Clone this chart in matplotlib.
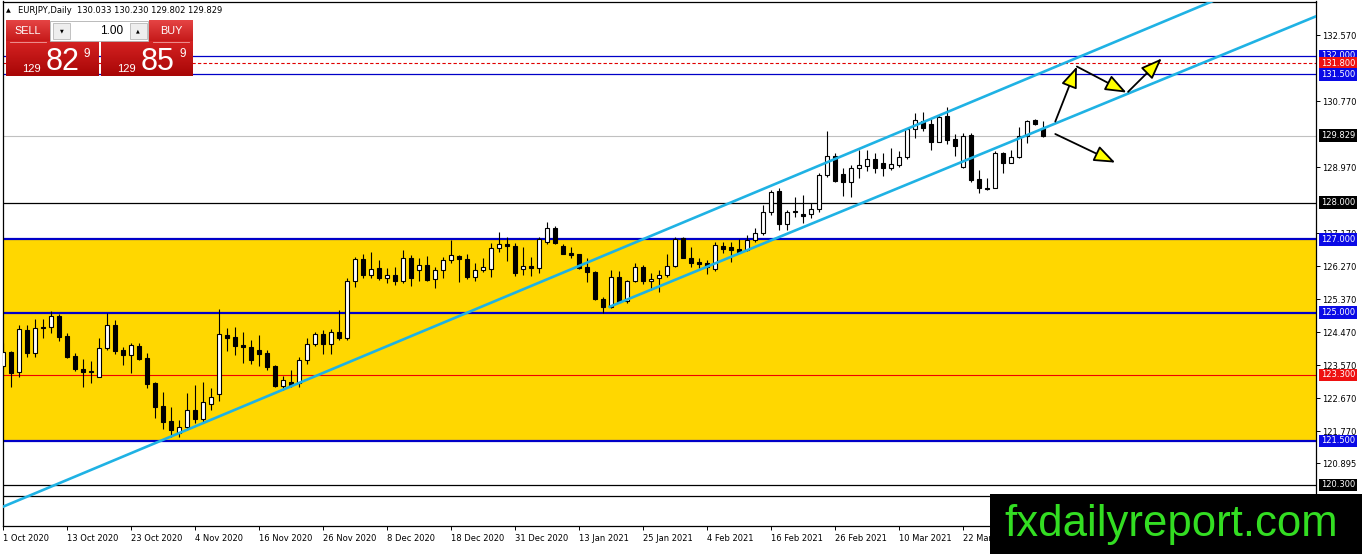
import numpy as np
import matplotlib
matplotlib.use('Agg')
from matplotlib import pyplot as plt
from matplotlib.patches import Rectangle, FancyArrowPatch
from matplotlib.colors import LinearSegmentedColormap

#%% data (EURJPY daily, bar 0 = 1 Oct 2020)
opens = [123.54, 123.93, 123.37, 124.52, 123.89, 124.60, 124.60, 124.91, 124.36, 123.82,
         123.46, 123.37, 123.25, 124.03, 124.66, 123.98, 123.83, 124.09, 123.75, 123.07,
         122.45, 122.04, 121.71, 121.89, 122.35, 122.10, 122.50, 122.77, 124.39, 124.33,
         124.12, 124.05, 123.98, 123.89, 123.54, 123.01, 123.12, 123.07, 123.71, 124.14,
         124.41, 124.14, 124.46, 124.32, 125.86, 126.46, 126.02, 126.22, 125.95, 126.02,
         125.86, 126.50, 126.16, 126.30, 125.91, 126.16, 126.43, 126.55, 126.46, 125.98,
         126.16, 126.20, 126.77, 126.86, 126.82, 126.18, 126.27, 126.22, 126.93, 127.32,
         126.82, 126.62, 126.60, 126.25, 126.10, 125.37, 125.16, 125.96, 125.31, 125.86,
         126.23, 125.86, 125.93, 126.02, 126.28, 127.04, 126.48, 126.39, 126.34, 126.18,
         126.82, 126.78, 126.73, 126.72, 126.99, 127.16, 127.73, 128.32, 127.41, 127.77,
         127.68, 127.68, 127.82, 128.75, 129.27, 128.78, 128.57, 128.93, 129.01, 129.19,
         129.07, 128.93, 129.03, 129.23, 130.01, 130.22, 130.13, 129.66, 130.37, 129.73,
         128.98, 129.84, 128.64, 128.41, 128.41, 129.34, 129.09, 129.25, 129.82, 130.25,
         130.033]
highs = [124.16, 123.95, 124.67, 124.66, 124.82, 124.82, 125.04, 124.96, 124.43, 123.91,
         123.73, 123.69, 124.30, 124.98, 124.80, 124.07, 124.18, 124.18, 123.91, 123.12,
         122.84, 122.43, 122.07, 122.80, 123.03, 123.12, 122.95, 125.10, 124.57, 124.60,
         124.48, 124.25, 124.39, 123.98, 123.57, 123.27, 123.43, 123.80, 124.32, 124.48,
         124.53, 124.54, 125.07, 125.93, 126.52, 126.61, 126.66, 126.43, 126.22, 126.25,
         126.71, 126.57, 126.50, 126.54, 126.25, 126.52, 126.98, 126.57, 126.61, 126.34,
         126.48, 126.91, 127.21, 127.07, 126.89, 126.80, 126.52, 127.07, 127.46, 127.37,
         126.86, 126.80, 126.61, 126.50, 126.13, 125.43, 126.16, 126.13, 125.89, 126.34,
         126.30, 126.07, 126.16, 126.61, 127.07, 127.07, 126.80, 126.48, 126.43, 126.93,
         126.93, 126.93, 127.02, 127.11, 127.30, 127.93, 128.34, 128.39, 127.80, 128.14,
         128.20, 128.00, 128.80, 129.95, 129.34, 128.93, 129.02, 129.43, 129.43, 129.34,
         129.34, 129.50, 129.41, 130.04, 130.43, 130.46, 130.28, 130.39, 130.62, 129.86,
         129.89, 129.89, 128.89, 128.66, 129.41, 129.39, 129.43, 130.07, 130.25, 130.28,
         130.230]
lows = [123.50, 122.96, 123.25, 123.80, 123.80, 124.32, 124.45, 124.23, 123.75, 123.41,
        122.96, 123.07, 123.23, 123.98, 123.86, 123.57, 123.36, 123.71, 122.95, 122.13,
        121.82, 121.62, 121.62, 121.80, 121.98, 122.00, 122.35, 122.60, 123.94, 123.84,
        123.63, 123.60, 123.54, 123.44, 122.96, 122.89, 122.98, 122.98, 123.60, 124.09,
        123.86, 123.86, 124.25, 124.25, 125.71, 125.95, 125.93, 125.89, 125.82, 125.75,
        125.80, 125.73, 125.86, 125.86, 125.66, 125.95, 126.34, 125.84, 125.91, 125.86,
        126.10, 125.98, 126.64, 126.41, 126.00, 126.02, 126.00, 126.07, 126.86, 126.86,
        126.60, 126.48, 126.20, 125.84, 125.34, 125.00, 125.13, 125.25, 125.25, 125.84,
        125.77, 125.61, 125.55, 125.98, 126.25, 126.48, 126.25, 126.21, 126.05, 126.14,
        126.62, 126.39, 126.62, 126.69, 126.93, 127.12, 127.66, 127.25, 127.25, 127.60,
        127.43, 127.59, 127.75, 128.70, 128.57, 128.18, 128.14, 128.68, 128.86, 128.82,
        128.73, 128.89, 128.98, 129.19, 129.77, 129.95, 129.43, 129.64, 129.59, 129.28,
        128.95, 128.55, 128.25, 128.34, 128.39, 128.82, 129.07, 129.21, 129.62, 130.11,
        129.802]
closes = [123.93, 123.34, 124.54, 123.89, 124.57, 124.57, 124.91, 124.34, 123.78, 123.45,
          123.37, 123.42, 124.03, 124.66, 123.95, 123.83, 124.12, 123.73, 123.04, 122.43,
          122.02, 121.80, 121.89, 122.35, 122.10, 122.55, 122.71, 124.41, 124.32, 124.09,
          124.05, 123.71, 123.87, 123.51, 123.00, 123.16, 123.03, 123.71, 124.14, 124.41,
          124.14, 124.48, 124.32, 125.86, 126.46, 126.02, 126.19, 125.95, 126.02, 125.86,
          126.48, 125.95, 126.30, 125.89, 126.16, 126.43, 126.57, 126.46, 125.98, 126.16,
          126.23, 126.75, 126.86, 126.82, 126.07, 126.27, 126.22, 127.02, 127.32, 126.91,
          126.61, 126.57, 126.22, 126.10, 125.37, 125.16, 125.96, 125.28, 125.86, 126.23,
          125.86, 125.91, 126.02, 126.28, 127.02, 126.48, 126.36, 126.33, 126.25, 126.84,
          126.73, 126.72, 126.66, 126.99, 127.16, 127.73, 128.30, 127.41, 127.73, 127.73,
          127.64, 127.82, 128.75, 129.27, 128.60, 128.57, 128.93, 129.03, 129.19, 128.95,
          128.93, 129.05, 129.23, 130.01, 130.25, 130.04, 129.66, 130.34, 129.71, 129.55,
          129.82, 128.62, 128.39, 128.37, 129.34, 129.09, 129.25, 129.82, 130.22, 130.13,
          129.829]

date_labels = ['1 Oct 2020', '13 Oct 2020', '23 Oct 2020', '4 Nov 2020', '16 Nov 2020',
               '26 Nov 2020', '8 Dec 2020', '18 Dec 2020', '31 Dec 2020', '13 Jan 2021',
               '25 Jan 2021', '4 Feb 2021', '16 Feb 2021', '26 Feb 2021', '10 Mar 2021',
               '22 Mar 2021']
price_ticks = [132.570, 130.770, 128.970, 127.170, 126.270, 125.370, 124.470, 123.570,
               122.670, 121.770, 120.895]

zone = [121.5, 127.0]
blue_levels = [132.0, 131.5, 127.0, 125.0, 121.5]
red_levels = [131.8, 123.3]
black_levels = [128.0, 120.3, 120.0]
bid = 129.829
header = 'EURJPY,Daily  130.033 130.230 129.802 129.829'

# trend channel anchors (bar index, price)
line_a = [(20.84, 121.61), (151.46, 133.52)]
line_b = [(75.8, 125.16), (132.1, 130.21)]

# scenario arrows (bar index, price)
arrow_from = [(131.5, 130.21), (134.2, 131.71), (140.6, 131.02), (131.5, 129.87)]
arrow_to = [(134.2, 131.71), (140.4, 131.00), (144.8, 131.93), (139.0, 129.09)]

#%%
W, H = 1362, 554
fig = plt.figure(figsize=(W/100, H/100), dpi=100)
ax = fig.add_axes([2.5/W, (H-526)/H, (1316-2.5)/W, (526-1.5)/H])

o = np.array(opens)
h = np.array(highs)
l = np.array(lows)
c = np.array(closes)
xs = np.arange(len(o))

ax.axhspan(zone[0], zone[1], color='#FFD700', lw=0, zorder=0)
ax.axhline(bid, color='#C0C0C0', lw=0.8, zorder=1)
for v in blue_levels:
    lw = 1.6 if zone[0] <= v <= zone[1] else 0.9
    ax.axhline(v, color='#0000C8', lw=lw, zorder=1)
ax.axhline(red_levels[0], color='#E00000', lw=0.8, ls=(0, (3, 2)), zorder=1)
ax.axhline(red_levels[1], color='#F00000', lw=0.8, zorder=1)
for v in black_levels:
    ax.axhline(v, color='black', lw=0.9, zorder=1)

# candles
up = c >= o
bottoms = np.minimum(o, c)
heights = np.maximum(np.abs(c - o), 0.004)
ax.vlines(xs, l, h, color='black', lw=0.8, zorder=2)
ax.bar(xs, heights, bottom=bottoms, width=0.55,
       color=np.where(up, 'white', 'black'), edgecolor='black', lw=0.8, zorder=3)

# channel
cyan = '#1FB2E4'
ax.axline(line_a[0], line_a[1], color=cyan, lw=1.9, zorder=4)
slope_b = (line_b[1][1] - line_b[0][1]) / (line_b[1][0] - line_b[0][0])
xb = np.array([line_b[0][0], 220])
ax.plot(xb, line_b[0][1] + slope_b*(xb - line_b[0][0]), color=cyan, lw=1.9, zorder=4)

for p0, p1 in zip(arrow_from, arrow_to):
    ax.add_patch(FancyArrowPatch(p0, p1, arrowstyle='-|>,head_length=1.3,head_width=0.5',
                                 mutation_scale=10, fc='#FFFF00', ec='black', lw=1.3,
                                 shrinkA=0, shrinkB=0, zorder=5))

ax.set_xlim(-0.1, 164.09)
ax.set_ylim(119.1803, 133.4836)

for s in ax.spines.values():
    s.set_color('black')
    s.set_linewidth(0.9)

ax.set_xticks(np.arange(len(date_labels))*8)
ax.set_xticklabels(date_labels, ha='left')
ax.yaxis.tick_right()
ax.set_yticks(price_ticks)
ax.set_yticklabels([f'{v:.3f}' for v in price_ticks])
ax.tick_params(axis='x', length=3, width=0.7, labelsize=6, pad=2.5)
ax.tick_params(axis='y', length=3, width=0.7, labelsize=6, pad=1.5)

# price labels on the right scale
tags = [(blue_levels[0], '#0A0AE6'), (red_levels[0], '#EE1111'), (blue_levels[1], '#0A0AE6'),
        (bid, 'black'), (black_levels[0], 'black'), (blue_levels[2], '#0A0AE6'),
        (blue_levels[3], '#0A0AE6'), (red_levels[1], '#EE1111'), (blue_levels[4], '#0A0AE6'),
        (black_levels[1], 'black')]
for v, bg in tags:
    ax.text(1.0035, v, f'{v:.3f}', transform=ax.get_yaxis_transform(), ha='left', va='center',
            color='white', fontsize=6, clip_on=False, zorder=6,
            bbox=dict(boxstyle='square,pad=0.22', fc=bg, ec='none'))

#%% overlay: header, trade panel, watermark
ov = fig.add_axes([0, 0, 1, 1], zorder=10)
ov.patch.set_alpha(0)
ov.axis('off')

ov.text(6, 10.5, '\u25B2', fontsize=4.5, va='center', ha='left')
ov.text(18, 10.5, header, fontsize=6, va='center', ha='left')

sans = ['Liberation Sans', 'DejaVu Sans']


def grad_box(x, y, w, hh, top, bot):
    cm = LinearSegmentedColormap.from_list('g', [top, bot])
    ov.imshow(np.linspace(0, 1, 40).reshape(-1, 1), cmap=cm, extent=(x, x+w, y+hh, y),
              aspect='auto', interpolation='bilinear', zorder=1)


grad_box(6, 21, 44, 20.5, '#E54444', '#C61A1A')
grad_box(149, 21, 44, 20.5, '#E54444', '#C61A1A')
grad_box(6, 42, 93, 34.5, '#D42222', '#A80606')
grad_box(101, 42, 92, 34.5, '#D42222', '#A80606')
ov.plot([10, 46], [41.5, 41.5], color='#F0A0A0', lw=0.6, zorder=2)
ov.plot([153, 189], [41.5, 41.5], color='#F0A0A0', lw=0.6, zorder=2)

ov.add_patch(Rectangle((50, 21), 98, 19.5, fc='white', ec='#B0B0B0', lw=0.6, zorder=1))
ov.add_patch(Rectangle((53, 22.5), 17, 16.5, fc='#EEEEEE', ec='#B8B8B8', lw=0.6, zorder=2))
ov.add_patch(Rectangle((129.5, 22.5), 17, 16.5, fc='#EEEEEE', ec='#B8B8B8', lw=0.6, zorder=2))
ov.text(61.5, 31, '\u25BC', fontsize=3.5, ha='center', va='center', zorder=3)
ov.text(138, 31, '\u25B2', fontsize=3.5, ha='center', va='center', zorder=3)
ov.text(123, 31, '1.00', fontsize=8.5, family=sans, ha='right', va='center', zorder=3)

ov.text(27.5, 31.5, 'SELL', fontsize=7.8, family=sans, color='white', ha='center', va='center', zorder=3)
ov.text(171, 31.5, 'BUY', fontsize=7.8, family=sans, color='white', ha='center', va='center', zorder=3)

for x0, big in [(22, '82'), (117, '85')]:
    ov.text(x0, 72, '129', fontsize=8, family=sans, color='white', ha='left', va='baseline', zorder=3)
    ov.text(x0+24, 69.5, big, fontsize=22, family=sans, color='white', ha='left', va='baseline', zorder=3)
    ov.text(x0+62, 57, '9', fontsize=8.5, family=sans, color='white', ha='left', va='baseline', zorder=3)

ov.add_patch(Rectangle((990, 494), 372, 60, fc='black', ec='none', zorder=1))
ov.text(1004, 536, 'fxdailyreport.com', fontsize=31.5, family=sans,
        color='#33DD22', ha='left', va='baseline', zorder=2)

ov.set_xlim(0, W)
ov.set_ylim(H, 0)

fig.savefig('out.png', dpi=100)
